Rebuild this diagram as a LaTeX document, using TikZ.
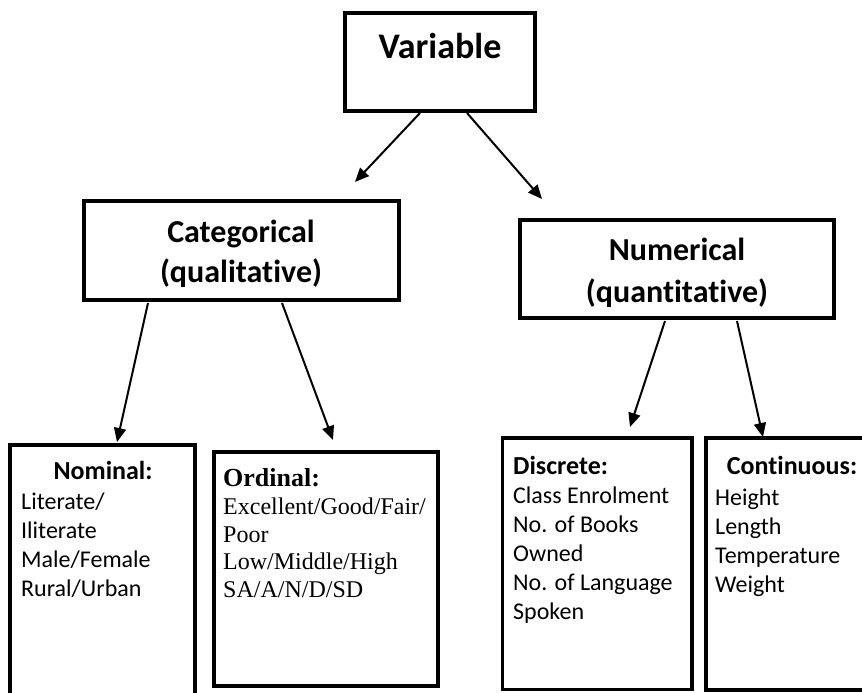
\documentclass[tikz,border=0pt]{standalone}
\usepackage{fontspec}
\setmainfont{Carlito}[Ligatures=NoCommon]
\newfontfamily\timesf{Liberation Serif}
\usetikzlibrary{arrows.meta}
\begin{document}
\begin{tikzpicture}[x=1pt,y=-1pt,
  box/.style={draw, line width=3.5pt, inner sep=0pt, outer sep=0pt},
  arr/.style={line width=2pt, -{Triangle[length=14pt,width=12pt]}},
  title/.style={font=\fontsize{36}{44}\selectfont\bfseries, anchor=base, inner sep=0pt},
  mid/.style={font=\fontsize{32}{39}\selectfont\bfseries, anchor=base, inner sep=0pt},
  head/.style={font=\fontsize{26}{32}\selectfont\bfseries, inner sep=0pt},
  thead/.style={font=\timesf\fontsize{26}{30}\selectfont\bfseries, inner sep=0pt},
  body/.style={font=\fontsize{24}{29}\selectfont, anchor=base west, inner sep=0pt},
  tbody/.style={font=\timesf\fontsize{24}{27.7}\selectfont, anchor=base west, inner sep=0pt},
]
\useasboundingbox (0,0) rectangle (862,693);
\clip (0,0) rectangle (862,693);
\fill[white] (0,0) rectangle (862,693);

% boxes
\node[box, minimum width=190pt, minimum height=98pt] (var) at (440,62) {};
\node[box, minimum width=315pt, minimum height=99pt] (cat) at (241.5,250.5) {};
\node[box, minimum width=314pt, minimum height=98pt] (num) at (677,269) {};
\node[box, minimum width=185pt, minimum height=295pt] (nom) at (102.5,592.5) {};
\node[box, minimum width=224pt, minimum height=234pt] (ord) at (326,569) {};
\node[box, minimum width=189.5pt, minimum height=251.5pt] (disc) at (597.25,563.75) {};
\node[box, minimum width=194pt, minimum height=252pt] (cont) at (803,564) {};

% titles
\node[title] (vart) at (440,59) {Variable};
\node[mid] (catt1) at (241,242) {Categorical};
\node[mid] (catt2) at (241,282) {(qualitative)};
\node[mid] (numt1) at (677,260) {Numerical};
\node[mid] (numt2) at (677,302) {(quantitative)};

% leaf texts
\node[head, anchor=base] (nomh) at (103,479) {Nominal:};
\node[body] (nomb) at (21,509) {\vtop{\hbox{Literate/}\hbox{Iliterate}\hbox{Male/Female}\hbox{Rural/Urban}}};

\node[thead, anchor=base west] (ordh) at (223,486) {Ordinal:};
\node[tbody] (ordb) at (223,514.3) {\vtop{\hbox{Excellent/Good/Fair/}\hbox{Poor}\hbox{Low/Middle/High}\hbox{SA/A/N/D/SD}}};

\node[head, anchor=base west] (disch) at (513,474) {Discrete:};
\node[body] (discb) at (513,503.5) {\vtop{\hbox{Class Enrolment}\hbox{No. of Books}\hbox{Owned}\hbox{No. of Language}\hbox{Spoken}}};

\node[head, anchor=base] (conth) at (792,474) {Continuous:};
\node[body] (contb) at (715,505) {\vtop{\hbox{Height}\hbox{Length}\hbox{Temperature}\hbox{Weight}}};

% arrow end points
\coordinate (tcat) at (355,182);
\coordinate (tnum) at (542,199);
\coordinate (tnom) at (117,442);
\coordinate (tord) at (333,440);
\coordinate (tdisc) at (630,427);
\coordinate (tcont) at (763,437);

\draw[arr] ([xshift=75pt,yshift=-2pt]var.south west) -- (tcat);
\draw[arr] ([xshift=122pt,yshift=-2pt]var.south west) -- (tnum);
\draw[arr] ([xshift=64pt,yshift=-3pt]cat.south west) -- (tnom);
\draw[arr] ([xshift=198pt,yshift=-3pt]cat.south west) -- (tord);
\draw[arr] ([xshift=145pt,yshift=-3pt]num.south west) -- (tdisc);
\draw[arr] ([xshift=217pt,yshift=-3pt]num.south west) -- (tcont);
\end{tikzpicture}
\end{document}
